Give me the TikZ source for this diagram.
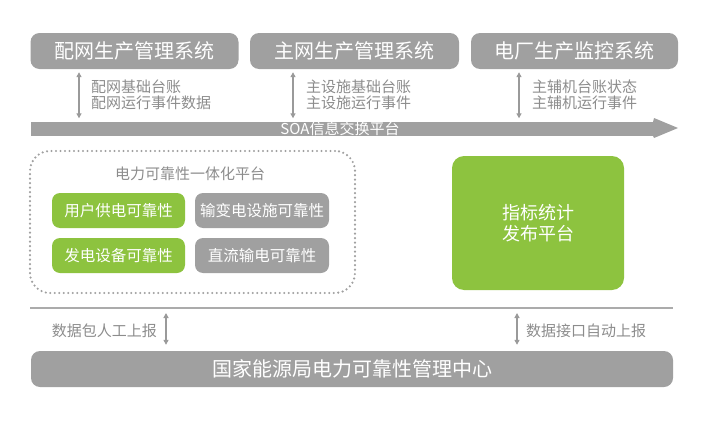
\documentclass[tikz,border=0pt]{standalone}
\usepackage{fontspec}
\setmainfont{Noto Sans CJK SC}
\usetikzlibrary{arrows.meta,calc}
\definecolor{boxgray}{HTML}{A0A0A0}
\definecolor{lgreen}{HTML}{8DC33F}
\definecolor{txtgray}{HTML}{8C8C8C}
\definecolor{arrgray}{HTML}{9A9A9A}
\definecolor{linegray}{HTML}{ABABAB}
\definecolor{dotgray}{HTML}{A0A0A0}
\begin{document}
\begin{tikzpicture}[x=1pt,y=-1pt,
  sysbox/.style={fill=boxgray, text=white, rounded corners=9pt, minimum height=36pt, inner sep=0pt, font=\fontsize{20}{24}\selectfont},
  subbox/.style={text=white, rounded corners=8pt, minimum width=134pt, minimum height=35pt, inner sep=0pt, font=\fontsize{15.5}{18}\selectfont},
  greenbox/.style={subbox, fill=lgreen},
  graybox/.style={subbox, fill=boxgray},
  biarr/.style={draw=arrgray, line width=1.2pt, {Triangle[width=5pt,length=5pt]}-{Triangle[width=5pt,length=5pt]}},
  lbl/.style={text=txtgray, font=\fontsize{15}{16}\selectfont, inner sep=0pt, align=left},
]
\useasboundingbox (0,0) rectangle (710,423);

% top systems
\node[sysbox, minimum width=208pt] (top1) at (134.5,51) {配网生产管理系统};
\node[sysbox, minimum width=209pt] (top2) at (354.5,51) {主网生产管理系统};
\node[sysbox, minimum width=207pt] (top3) at (574.5,51) {电厂生产监控系统};

% SOA bar
\node[fill=boxgray, minimum width=623pt, minimum height=14pt, inner sep=0pt, anchor=west] (soabar) at (31,129) {};
\fill[boxgray] (653,122) -- (654,118) -- (678,128) -- (654,138) -- (653,136) -- cycle;
\node[text=white, inner sep=0pt, font=\fontsize{15}{16}\selectfont] (soa) at (340,129) {SOA信息交换平台};

% arrows top
\coordinate (c1) at (79,0);
\coordinate (c2) at (293,0);
\coordinate (c3) at (519,0);
\draw[biarr, shorten <=3pt, shorten >=3.5pt] (top1.south -| c1) -- (soabar.north -| c1);
\draw[biarr, shorten <=3pt, shorten >=3.5pt] (top2.south -| c2) -- (soabar.north -| c2);
\draw[biarr, shorten <=3pt, shorten >=3.5pt] (top3.south -| c3) -- (soabar.north -| c3);

\node[lbl, anchor=west] (l1) at (91,94.5) {配网基础台账\\配网运行事件数据};
\node[lbl, anchor=west] (l2) at (306,94.5) {主设施基础台账\\主设施运行事件};
\node[lbl, anchor=west] (l3) at (532,94.5) {主辅机台账状态\\主辅机运行事件};

% platform
\node[draw=dotgray, line width=2.4pt, dash pattern=on 0pt off 4.5pt, line cap=round, rounded corners=20pt, minimum width=325pt, minimum height=142pt, inner sep=0pt] (platform) at (192.5,222) {};
\node[lbl] (ptitle) at (190,174) {电力可靠性一体化平台};
\node[greenbox, minimum width=133pt] (g1) at (118.5,210.5) {用户供电可靠性};
\node[graybox] (g2) at (262,210.5) {输变电设施可靠性};
\node[greenbox, minimum width=133pt] (g3) at (118.5,255.5) {发电设备可靠性};
\node[graybox] (g4) at (262,255.5) {直流输电可靠性};

% index platform
\node[fill=lgreen, text=white, rounded corners=12pt, minimum width=172pt, minimum height=134pt, inner sep=0pt, align=center, font=\fontsize{18}{21.5}\selectfont] (idx) at (538,223) {指标统计\\发布平台};

% separator line
\coordinate (h1) at (30,308);
\coordinate (h2) at (673,308);
\draw[linegray, line width=2.5pt] (h1) -- (h2);

% bottom center
\node[sysbox, minimum width=642pt] (center) at (352,369) {国家能源局电力可靠性管理中心};

\coordinate (c4) at (166,0);
\coordinate (c5) at (517,0);
\draw[biarr, shorten <=5pt, shorten >=6pt] (h1 -| c4) -- (center.north -| c4);
\draw[biarr, shorten <=5pt, shorten >=6pt] (h1 -| c5) -- (center.north -| c5);
\node[lbl, anchor=east] (l4) at (157,331) {数据包人工上报};
\node[lbl, anchor=west] (l5) at (526,331) {数据接口自动上报};
\end{tikzpicture}
\end{document}
